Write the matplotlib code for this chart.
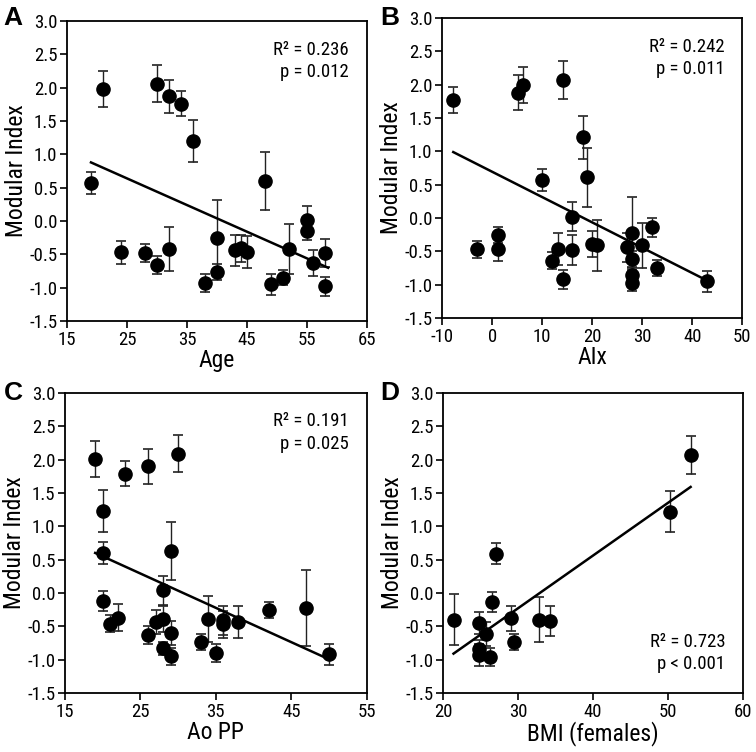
import numpy as np
import matplotlib
matplotlib.use("Agg")
import matplotlib.pyplot as plt

plt.rcParams["font.family"] = ["Roboto Condensed", "DejaVu Sans"]
plt.rcParams["axes.unicode_minus"] = False

# Panel A: Age
age_x = [19, 21, 24, 28, 30, 30, 32, 32, 34, 36, 38, 40, 40, 43, 44, 45, 48, 49, 51, 52, 55, 55, 56, 58, 58]
age_y = [0.57, 1.98, -0.47, -0.48, -0.66, 2.06, 1.87, -0.42, 1.76, 1.20, -0.93, -0.25, -0.76, -0.44, -0.41,
         -0.47, 0.60, -0.95, -0.85, -0.42, 0.01, -0.15, -0.63, -0.48, -0.98]
age_err = [0.16, 0.27, 0.17, 0.13, 0.14, 0.28, 0.25, 0.33, 0.19, 0.31, 0.14, 0.56, 0.12, 0.23, 0.20,
           0.24, 0.44, 0.16, 0.11, 0.38, 0.21, 0.14, 0.19, 0.21, 0.14]
age_fit_x = [19, 58.5]
age_fit_y = [0.88, -0.70]

# Panel B: AIx
aix_x = [-7.8, -3, 1.2, 1.2, 5.1, 6.1, 10, 12, 13.1, 14.2, 14.1, 16, 16, 18.1, 18.9, 20, 21, 26.9,
         27.9, 27.9, 27.9, 27.9, 30, 31.9, 33, 42.9]
aix_y = [1.77, -0.47, -0.26, -0.46, 1.88, 1.99, 0.57, -0.64, -0.46, 2.07, -0.92, 0.02, -0.48, 1.21,
         0.61, -0.39, -0.41, -0.44, -0.23, -0.62, -0.85, -0.97, -0.41, -0.14, -0.75, -0.95]
aix_err = [0.19, 0.13, 0.12, 0.18, 0.26, 0.27, 0.16, 0.13, 0.24, 0.28, 0.14, 0.22, 0.22, 0.32,
           0.44, 0.19, 0.38, 0.22, 0.55, 0.13, 0.12, 0.13, 0.34, 0.14, 0.12, 0.16]
aix_fit_x = [-7.8, 42.5]
aix_fit_y = [0.99, -0.92]

# Panel C: Ao PP
aopp_x = [19, 20, 20, 20, 21, 22, 23, 26, 26, 27, 28, 28, 28, 29, 29, 29, 30, 33, 34, 35, 36, 36, 38, 42, 47, 50]
aopp_y = [2.01, 1.23, 0.60, -0.12, -0.46, -0.37, 1.79, -0.63, 1.90, -0.44, 0.04, -0.39, -0.83, 0.63,
          -0.60, -0.95, 2.09, -0.73, -0.39, -0.90, -0.41, -0.47, -0.44, -0.25, -0.22, -0.92]
aopp_err = [0.27, 0.31, 0.16, 0.15, 0.13, 0.20, 0.19, 0.14, 0.26, 0.18, 0.22, 0.20, 0.10, 0.44,
            0.18, 0.13, 0.28, 0.12, 0.34, 0.14, 0.22, 0.20, 0.24, 0.12, 0.57, 0.16]
aopp_fit_x = [19, 50.1]
aopp_fit_y = [0.60, -1.00]

# Panel D: BMI (females)
bmi_x = [21.4, 24.8, 24.8, 24.8, 25.7, 26.3, 26.5, 27.0, 29.1, 29.4, 32.8, 34.2, 50.2, 53.0]
bmi_y = [-0.40, -0.45, -0.84, -0.93, -0.61, -0.96, -0.13, 0.59, -0.38, -0.74, -0.40, -0.42, 1.22, 2.07]
bmi_err = [0.38, 0.17, 0.14, 0.16, 0.18, 0.14, 0.15, 0.16, 0.19, 0.12, 0.34, 0.23, 0.31, 0.28]
bmi_fit_x = [21.4, 53]
bmi_fit_y = [-0.91, 1.59]

panels = [
    ("A", age_x, age_y, age_err, age_fit_x, age_fit_y, "Age", (15, 65), [15, 25, 35, 45, 55, 65],
     "R² = 0.236\np = 0.012", "top"),
    ("B", aix_x, aix_y, aix_err, aix_fit_x, aix_fit_y, "AIx", (-10, 50), [-10, 0, 10, 20, 30, 40, 50],
     "R² = 0.242\np = 0.011", "top"),
    ("C", aopp_x, aopp_y, aopp_err, aopp_fit_x, aopp_fit_y, "Ao PP", (15, 55), [15, 25, 35, 45, 55],
     "R² = 0.191\np = 0.025", "top"),
    ("D", bmi_x, bmi_y, bmi_err, bmi_fit_x, bmi_fit_y, "BMI (females)", (20, 60), [20, 30, 40, 50, 60],
     "R² = 0.723\np < 0.001", "bottom"),
]

positions = [
    [0.0886, 0.573, 0.397, 0.399],
    [0.585, 0.577, 0.397, 0.399],
    [0.086, 0.0785, 0.399, 0.399],
    [0.586, 0.0785, 0.397, 0.399],
]
letter_pos = [(0.005, 0.992), (0.503, 0.992), (0.005, 0.494), (0.503, 0.494)]

fig = plt.figure(figsize=(7.56, 7.52), dpi=100)
yt = np.arange(-1.5, 3.01, 0.5)

for (letter, x, y, err, fx, fy, xlabel, xlim, xticks, note, where), pos, lp in zip(panels, positions, letter_pos):
    ax = fig.add_axes(pos)
    ax.errorbar(x, y, yerr=err, fmt="none", ecolor="#222222", elinewidth=1.0, capsize=3.5, capthick=1.2, zorder=2)
    ax.plot(fx, fy, color="black", lw=1.8, zorder=3)
    ax.plot(x, y, "o", color="black", ms=9.5, zorder=4)
    ax.set_xlim(*xlim)
    ax.set_ylim(-1.5, 3.0)
    ax.set_xticks(xticks)
    ax.set_yticks(yt)
    ax.set_yticklabels([f"{v:.1f}" for v in yt])
    ax.tick_params(direction="out", length=5, width=1.2, labelsize=13.5, pad=2, top=False, right=False)
    for sp in ax.spines.values():
        sp.set_linewidth(1.3)
    ax.set_xlabel(xlabel, fontsize=17, labelpad=0)
    ax.set_ylabel("Modular Index", fontsize=17, labelpad=1)
    if where == "top":
        ax.text(0.94, 0.935, note, transform=ax.transAxes, ha="right", va="top", fontsize=13.5, linespacing=1.35)
    else:
        ax.text(0.94, 0.065, note, transform=ax.transAxes, ha="right", va="bottom", fontsize=13.5, linespacing=1.35)
    fig.text(lp[0], lp[1], letter, fontsize=19, fontweight="bold", family=["Liberation Sans", "DejaVu Sans"],
             ha="left", va="top")

plt.savefig("out.png", dpi=100)
plt.close()
